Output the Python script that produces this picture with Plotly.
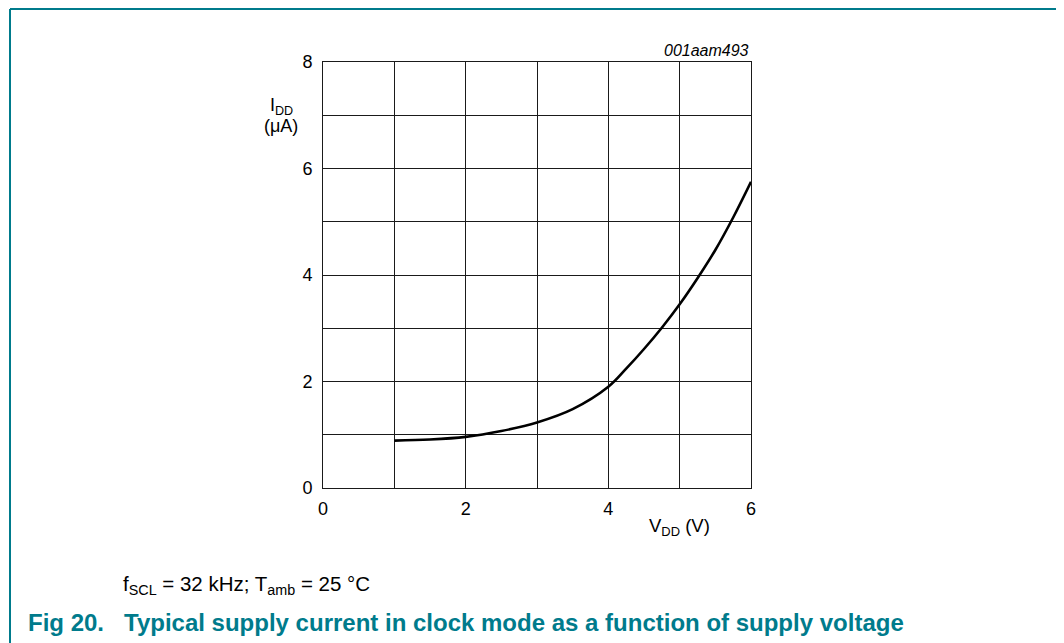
import plotly.graph_objects as go

# Data
vdd = [1.0, 1.5, 2.0, 2.5, 3.0, 3.5, 4.0, 4.25, 4.5, 4.75, 5.0, 5.25, 5.5, 5.75, 6.0]
idd = [0.89, 0.91, 0.96, 1.07, 1.23, 1.48, 1.90, 2.24, 2.61, 3.01, 3.45, 3.94, 4.47, 5.08, 5.75]
x_ticks = [0, 2, 4, 6]
y_ticks = [0, 2, 4, 6, 8]

OFF = 8  # default page body margin
W, H = 1064 - OFF, 643 - OFF
L, R, T, B = 323 - OFF, 751 - OFF, 62 - OFF, 488 - OFF
TEAL = "#007b8c"
FONT = "Liberation Sans, Arial, sans-serif"


def px(x):
    return (x - OFF - L) / (R - L)


def py(y):
    return (B - (y - OFF)) / (B - T)


fig = go.Figure()
fig.add_trace(go.Scatter(x=vdd, y=idd, mode="lines",
                         line=dict(color="black", width=2.6, shape="spline", smoothing=1.0),
                         hoverinfo="skip", showlegend=False))

axis_common = dict(showgrid=True, gridcolor="#1a1a1a", gridwidth=1, dtick=1,
                   showline=True, linecolor="#1a1a1a", linewidth=1, mirror=True,
                   zeroline=False, ticks="outside", tickcolor="rgba(0,0,0,0)",
                   tickfont=dict(family=FONT, size=18, color="black"))

fig.update_xaxes(range=[0, 6], tickvals=list(range(0, 7)), ticklen=4,
                 ticktext=[str(v) if v in x_ticks else "" for v in range(0, 7)],
                 **axis_common)
fig.update_yaxes(range=[0, 8], tickvals=list(range(0, 9)), ticklen=6,
                 ticktext=[str(v) if v in y_ticks else "" for v in range(0, 9)],
                 **axis_common)

ann = []


def text(x, y, s, size=17, anchor="center", color="black", italic=False, bold=False):
    f = dict(family=FONT, size=size, color=color)
    if italic:
        f["style"] = "italic"
    if bold:
        f["weight"] = "bold"
    ann.append(dict(x=px(x), y=py(y), xref="paper", yref="paper", text=s,
                    showarrow=False, xanchor=anchor, yanchor="middle", font=f))


text(281, 107, "I<sub>DD</sub>", size=18)
text(281, 126, "(μA)", size=18)
text(751, 50, "001aam493", size=16, anchor="right", italic=True)
text(647, 527, "V<sub>DD</sub> (V)", size=18.5, anchor="left")
text(121, 585, "f<sub>SCL</sub> = 32 kHz; T<sub>amb</sub> = 25 °C", size=20.5, anchor="left")
text(26, 622, "Fig 20.&nbsp;&nbsp;&nbsp;Typical supply current in clock mode as a function of supply voltage",
     size=24, anchor="left", color=TEAL, bold=True)

shapes = [
    dict(type="line", xref="paper", yref="paper", x0=px(10), x1=px(1064 + 5), y0=py(9), y1=py(9),
         line=dict(color=TEAL, width=2)),
    dict(type="line", xref="paper", yref="paper", x0=px(10), x1=px(10), y0=py(9), y1=py(643 + 5),
         line=dict(color=TEAL, width=2)),
]

fig.update_layout(width=W, height=H, margin=dict(l=L, r=W - R, t=T, b=H - B),
                  paper_bgcolor="white", plot_bgcolor="white",
                  annotations=ann, shapes=shapes, showlegend=False)

fig.write_html("out.html")
